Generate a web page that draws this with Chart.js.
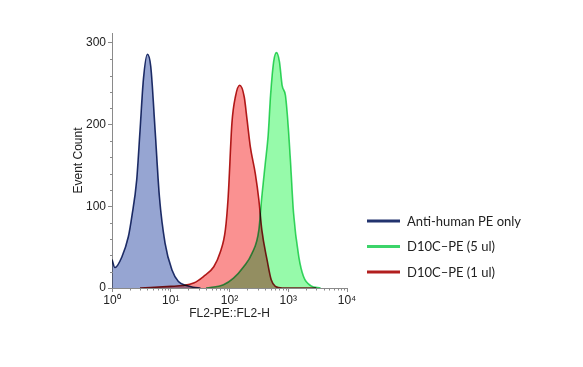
<!DOCTYPE html>
<html>
<head>
<meta charset="utf-8">
<script src="https://cdn.jsdelivr.net/npm/chart.js@4.4.1/dist/chart.umd.min.js"></script>
<style>
html,body{margin:0;padding:0;background:#fff;}
#c{display:block;}
</style>
</head>
<body>
<canvas id="c" width="583" height="367"></canvas>
<script>
// ---- data ----
const seriesNames = ["Anti-human PE only", "D10C\u2013PE (5 ul)", "D10C\u2013PE (1 ul)"];
const xTickValues = [1, 10, 100, 1000, 10000];
const xTickLabels = ["10\u2070", "10\u00b9", "10\u00b2", "10\u00b3", "10\u2074"];
const yTickValues = [0, 100, 200, 300];

const blueX = [1.0, 1.12, 1.47, 1.9, 2.17, 2.63, 3.0, 3.42, 4.0, 4.57, 5.42, 6.41, 8.0, 10.5, 13.5, 18.6, 24, 32];
const blueY = [35, 25, 38, 63, 87, 132, 193, 255, 286, 271, 193, 112, 55, 22, 8, 3, 1, 0];

const greenX = [40, 79, 117, 174, 240, 316, 355, 407, 455, 500, 564, 631, 708, 787, 895, 955, 1023, 1096, 1230, 1514, 1820, 2400, 3550];
const greenY = [0, 4, 12, 26, 42, 71, 112, 153, 187, 236, 277, 288, 277, 248, 236, 216, 187, 153, 92, 38, 14, 3, 0];

const redX = [3, 10, 16, 24.5, 36, 54, 69, 85, 95, 110, 126, 149, 178, 199, 226, 275, 316, 355, 437, 513, 603, 794, 3000];
const redY = [0, 2, 3, 6, 14, 26, 43, 71, 112, 202, 234, 248, 234, 206, 173, 140, 108, 71, 34, 10, 2, 0, 0];

const lineColors = ["#22336e", "#3cd46a", "#b21e1e"];
const fillColors = ["rgb(150,165,210)", "rgb(150,250,170)", "rgb(250,145,145)"];

function pts(xs, ys) { return xs.map((x, i) => ({ x: x, y: ys[i] })); }

const datasets = [
  { label: seriesNames[0], data: pts(blueX, blueY) },
  { label: seriesNames[1], data: pts(greenX, greenY) },
  { label: seriesNames[2], data: pts(redX, redY) }
].map((d, i) => Object.assign(d, {
  borderColor: lineColors[i],
  backgroundColor: fillColors[i],
  borderWidth: 1.6,
  pointRadius: 0,
  fill: 'origin',
  cubicInterpolationMode: 'monotone',
  tension: 0.4
}));

const multiplyPlugin = {
  id: 'multiply',
  beforeDatasetsDraw(chart) { chart.ctx.save(); chart.ctx.globalCompositeOperation = 'multiply'; },
  afterDatasetsDraw(chart) { chart.ctx.restore(); }
};

const minorTicksPlugin = {
  id: 'minorTicks',
  afterDraw(chart) {
    const ctx = chart.ctx, xs = chart.scales.x, ys = chart.scales.y;
    const a = chart.chartArea;
    ctx.save();
    ctx.strokeStyle = '#8a8a8a';
    ctx.lineWidth = 1;
    ctx.beginPath();
    for (let d = 1; d < 10000; d *= 10) {
      for (let k = 2; k <= 9; k++) {
        const px = Math.round(xs.getPixelForValue(d * k)) + 0.5;
        ctx.moveTo(px, a.bottom); ctx.lineTo(px, a.bottom + 2.5);
      }
    }
    for (let v = 20; v <= 300; v += 20) {
      if (v % 100 === 0) continue;
      const py = Math.round(ys.getPixelForValue(v)) + 0.5;
      ctx.moveTo(a.left - 2, py); ctx.lineTo(a.left + 1, py);
    }
    ctx.stroke();
    ctx.restore();
  }
};

const legendPlugin = {
  id: 'customLegend',
  afterDraw(chart) {
    const ctx = chart.ctx;
    const order = [0, 1, 2];
    const x0 = 367, y0 = 221, step = 25.5;
    ctx.save();
    ctx.font = '13px Lato, "Open Sans", sans-serif';
    ctx.textBaseline = 'middle';
    order.forEach((idx, i) => {
      const y = y0 + i * step;
      ctx.strokeStyle = lineColors[idx];
      ctx.lineWidth = 3;
      ctx.beginPath(); ctx.moveTo(x0, y); ctx.lineTo(x0 + 33, y); ctx.stroke();
      ctx.fillStyle = '#222';
      ctx.fillText(seriesNames[idx], x0 + 40, y + 0.5);
    });
    ctx.restore();
  }
};

new Chart(document.getElementById('c'), {
  type: 'line',
  data: { datasets: datasets },
  plugins: [multiplyPlugin, minorTicksPlugin, legendPlugin],
  options: {
    responsive: false,
    animation: false,
    layout: { padding: { left: 71, top: 33, right: 236, bottom: 46 } },
    plugins: { legend: { display: false }, tooltip: { enabled: false } },
    scales: {
      x: {
        type: 'logarithmic',
        min: 1, max: 10000,
        afterBuildTicks(s) { s.ticks = xTickValues.map(v => ({ value: v })); },
        afterFit(s) { s.height = 33; },
        ticks: {
          autoSkip: false, maxRotation: 0,
          color: '#222', font: { family: 'Liberation Sans, Arial', size: 12 },
          padding: 1,
          callback(v) { const i = xTickValues.indexOf(v); return i >= 0 ? xTickLabels[i] : ''; }
        },
        grid: { display: true, drawOnChartArea: false, drawTicks: true, tickLength: 4, color: '#8a8a8a' },
        border: { display: true, color: '#8a8a8a' },
        title: { display: true, text: 'FL2-PE::FL2-H', color: '#222', font: { family: 'Liberation Sans, Arial', size: 12 }, padding: { top: 0, bottom: 0 } }
      },
      y: {
        min: 0, max: 312,
        afterBuildTicks(s) { s.ticks = yTickValues.map(v => ({ value: v })); },
        afterFit(s) { s.width = 41; },
        ticks: { color: '#222', font: { family: 'Liberation Sans, Arial', size: 12 }, padding: 2 },
        grid: { display: true, drawOnChartArea: false, drawTicks: true, tickLength: 4, color: '#8a8a8a' },
        border: { display: true, color: '#8a8a8a' },
        title: { display: true, text: 'Event Count', color: '#222', font: { family: 'Liberation Sans, Arial', size: 12 }, padding: { top: 0, bottom: 0 } }
      }
    }
  }
});
</script>
</body>
</html>
